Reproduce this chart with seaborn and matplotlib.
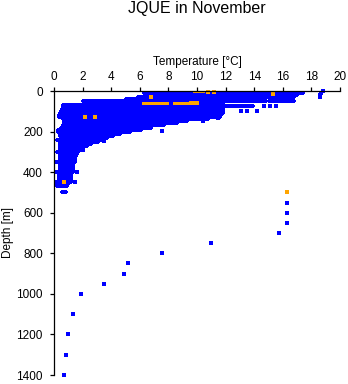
import matplotlib
matplotlib.use("Agg")
import matplotlib.pyplot as plt
import seaborn as sns
import pandas as pd

# ---- data ----
# main cloud of observations: depth level [m], min and max temperature [degC]
band_depth = [0, 10, 20, 30, 40, 50, 60, 70, 80, 90, 100, 110, 120, 130, 140,
              150, 160, 170, 180, 190, 200, 210, 220, 230, 240, 250, 260, 270,
              280, 290, 300, 310, 320, 330, 340, 350, 360, 370, 380, 390, 400,
              410, 420, 430, 440, 450, 460, 470, 500]
band_tmin = [6.3, 6.3, 6.4, 5.9, 5.0, 2.05, 3.3, 0.65, 0.6, 0.56, 0.5, 0.4, 0.35,
             0.35, 0.6, 0.7, 0.7, 0.6, 0.5, 0.3, 0.25, 0.4, 0.45, 0.5, 0.2, 0.4,
             0.4, 0.4, 0.4, 0.4, 0.2, 0.4, 0.4, 0.4, 0.4, 0.1, 0.4, 0.4, 0.4,
             0.4, 0.1, 0.35, 0.35, 0.35, 0.35, 0.0, 0.2, 0.2, 0.55]
band_tmax = [17.5, 17.4, 17.0, 16.8, 11.8, 11.8, 11.8, 11.8, 11.8, 11.8, 11.8,
             11.8, 11.7, 11.6, 10.8, 9.3, 8.6, 7.7, 6.8, 6.1, 5.3, 4.6, 4.1, 3.7,
             3.5, 3.1, 2.6, 2.3, 2.0, 1.9, 1.7, 1.6, 1.55, 1.5, 1.45, 1.5, 1.35,
             1.3, 1.3, 1.3, 1.3, 1.2, 1.2, 1.2, 1.2, 1.2, 1.0, 0.9, 0.85]

# isolated warm streaks
streak_depth = [48, 48, 48, 48, 48, 72]
streak_tmin = [12.0, 14.1, 15.0, 16.0, 16.6, 11.8]
streak_tmax = [14.0, 14.8, 15.9, 16.5, 16.8, 13.9]

# single blue observations (temperature, depth)
blue_temp = [14.7, 15.1, 15.5, 13.1, 13.5, 14.2, 10.4, 11.5, 7.55, 3.5, 2.0,
             1.6, 1.5, 18.8, 18.7, 18.6, 18.6,
             16.3, 16.3, 16.3, 15.7, 11.0, 7.55, 5.2, 4.9, 3.5, 1.9, 1.33, 1.0,
             0.84, 0.7]
blue_depth = [72, 72, 72, 99, 99, 99, 148, 133, 197, 245, 290,
              400, 450, 0, 10, 20, 30,
              550, 600, 650, 700, 750, 800, 850, 900, 950, 1000, 1100, 1200,
              1300, 1400]

# orange observations: streak segments and single points
orange_seg_depth = [60, 60, 60, 52, 1]
orange_seg_tmin = [6.2, 7.4, 8.4, 9.5, 9.8]
orange_seg_tmax = [7.2, 7.9, 10.0, 10.0, 10.4]
orange_temp = [10.8, 11.2, 15.3, 6.8, 2.2, 2.9, 0.7, 16.3]
orange_depth = [3, 3, 16, 28, 130, 130, 450, 500]

xticks = [0, 2, 4, 6, 8, 10, 12, 14, 16, 18, 20]
yticks = [0, 200, 400, 600, 800, 1000, 1200, 1400]

BLUE = "#0000FF"
ORANGE = "#FFA500"


def segments(depths, tmins, tmaxs, prefix):
    rows = []
    for i, (d, a, b) in enumerate(zip(depths, tmins, tmaxs)):
        rows.append({"seg": f"{prefix}{i}", "temp": a, "depth": d})
        rows.append({"seg": f"{prefix}{i}", "temp": b, "depth": d})
    return pd.DataFrame(rows)


sns.set_style("ticks")
plt.rcParams["font.family"] = ["Liberation Sans", "DejaVu Sans"]

fig = plt.figure(figsize=(3.48, 3.84), dpi=100)
ax = fig.add_axes([54 / 348, 1 - 375 / 384, 286 / 348, 284 / 384])

cloud = pd.concat([segments(band_depth, band_tmin, band_tmax, "b"),
                   segments(streak_depth, streak_tmin, streak_tmax, "s")])
sns.lineplot(data=cloud, x="temp", y="depth", units="seg", estimator=None,
             sort=False, color=BLUE, lw=1.6, antialiased=False,
             legend=False, ax=ax, zorder=2)
sns.scatterplot(x=blue_temp, y=blue_depth, color=BLUE, marker="s", s=5,
                linewidth=0, ax=ax, clip_on=False, zorder=3)

oseg = segments(orange_seg_depth, orange_seg_tmin, orange_seg_tmax, "o")
sns.lineplot(data=oseg, x="temp", y="depth", units="seg", estimator=None,
             sort=False, color=ORANGE, lw=1.8, antialiased=False,
             legend=False, ax=ax, zorder=4)
sns.scatterplot(x=orange_temp, y=orange_depth, color=ORANGE, marker="s", s=6,
                linewidth=0, ax=ax, clip_on=False, zorder=5)

ax.set_xlim(0, 20)
ax.set_ylim(1400, 0)
ax.set_xticks(xticks)
ax.set_yticks(yticks)
ax.xaxis.tick_top()
ax.xaxis.set_label_position("top")
ax.spines["right"].set_visible(False)
ax.spines["bottom"].set_visible(False)
for s in ("top", "left"):
    ax.spines[s].set_color("black")
    ax.spines[s].set_linewidth(0.9)
    ax.spines[s].set_zorder(6)
ax.tick_params(axis="both", length=3, width=0.9, color="black",
               labelsize=8.5, labelcolor="black")
ax.tick_params(axis="x", pad=3)
ax.tick_params(axis="y", pad=5)
ax.set_xlabel("Temperature [°C]", fontsize=8.5, labelpad=4, color="black")
ax.set_ylabel("Depth [m]", fontsize=8.5, labelpad=2, color="black")
fig.text(197 / 348, 1 - 9 / 384, "JQUE in November", ha="center",
         va="center", fontsize=11.5, color="black")

fig.savefig("out.png", dpi=100)
